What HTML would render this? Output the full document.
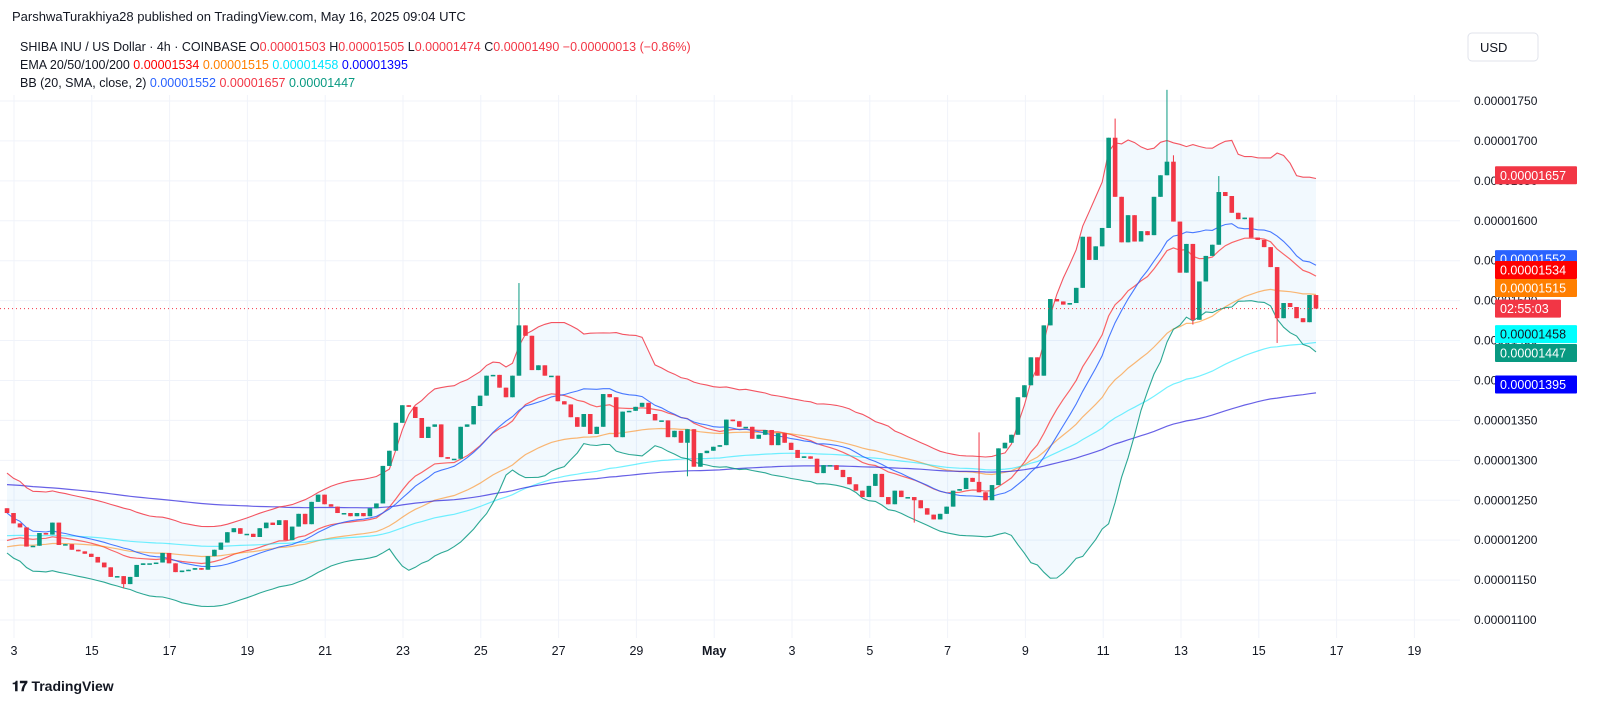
<!DOCTYPE html>
<html><head><meta charset="utf-8"><style>
body{margin:0;background:#fff;width:1600px;height:718px;overflow:hidden;font-family:"Liberation Sans",sans-serif}
svg{position:absolute;left:0;top:0}
</style></head><body>
<svg id="c" width="1600" height="718" xmlns="http://www.w3.org/2000/svg">
<rect width="1600" height="718" fill="#fff"/>
<text x="12" y="21" font-size="13" fill="#131722">ParshwaTurakhiya28 published on TradingView.com, May 16, 2025 09:04 UTC</text>
<g id="grid"></g>
<g id="bbfill"></g>
<g id="lines"></g>
<g id="candles"></g>
<g id="axis"></g>
<g font-size="12.5">
<text x="20" y="51" fill="#131722">SHIBA INU / US Dollar · 4h · COINBASE <tspan fill="#131722">O</tspan><tspan fill="#f23645">0.00001503</tspan> <tspan fill="#131722">H</tspan><tspan fill="#f23645">0.00001505</tspan> <tspan fill="#131722">L</tspan><tspan fill="#f23645">0.00001474</tspan> <tspan fill="#131722">C</tspan><tspan fill="#f23645">0.00001490</tspan> <tspan fill="#f23645">−0.00000013 (−0.86%)</tspan></text>
<text x="20" y="69" fill="#131722">EMA 20/50/100/200 <tspan fill="#ff0000">0.00001534</tspan> <tspan fill="#ff7f00">0.00001515</tspan> <tspan fill="#00e5ff">0.00001458</tspan> <tspan fill="#0000ff">0.00001395</tspan></text>
<text x="20" y="87" fill="#131722">BB (20, SMA, close, 2) <tspan fill="#2962ff">0.00001552</tspan> <tspan fill="#f23645">0.00001657</tspan> <tspan fill="#089981">0.00001447</tspan></text>
</g>
<rect x="1468" y="33" width="70" height="28" rx="4" fill="#fff" stroke="#e0e3eb"/>
<text x="1480" y="52" font-size="13" fill="#131722">USD</text>
<text x="12" y="691" font-size="14" font-weight="bold" fill="#131722">𝟏𝟕 TradingView</text>
</svg>
<script>
const closes=[1234,1221,1216,1192,1193,1209,1207,1222,1194,1195,1188,1186,1183,1179,1172,1166,1154,1155,1145,1154,1169,1171,1171,1172,1184,1171,1160,1162,1163,1165,1163,1180,1188,1197,1210,1215,1208,1208,1204,1215,1222,1219,1225,1200,1217,1233,1220,1248,1257,1245,1242,1234,1234,1230,1234,1230,1240,1246,1293,1312,1347,1369,
1367,1353,1328,1342,1345,1304,1302,1302,1342,1345,1368,1381,1406,1407,1391,1379,1406,1469,1456,1413,1419,1406,1406,1374,1370,1354,1342,1358,1333,1342,1383,1379,1329,1361,1362,1367,1372,1358,1350,1350,1329,1337,1322,1339,1292,1309,1312,1317,1319,1351,1349,1342,1342,
1327,1332,1338,1319,1334,1322,1313,1303,1305,1302,1284,1294,1294,1288,1279,1270,1262,1254,1268,1283,1254,1245,1262,1254,1254,1250,1240,1232,1226,1233,1242,1262,1264,1278,1273,1260,1250,1269,
1315,1322,1332,1379,1394,1429,1406,1469,1502,1499,1495,1497,1516,1580,1551,1568,1591,1704,1630,1573,1607,1574,1587,1582,1630,1657,1674,1599,1535,1571,1476,1524,1556,1570,1636,1631,1610,1602,1604,1579,1576,1567,1542,1478,1497,1492,1478,1473,1507,1490];
const wickHighIdx=[79,171,179,180,187,150];
const wickHighVal=[1522,1728,1764,1682,1656,1335];
const wickLowIdx=[105,183,196,140,18,153];
const wickLowVal=[1280,1470,1447,1222,1140,1300];
const priceTicks=[1100,1150,1200,1250,1300,1350,1400,1450,1500,1550,1600,1650,1700,1750];
const dateLabels=["3","15","17","19","21","23","25","27","29","May","3","5","7","9","11","13","15","17","19"];
const emaPeriods=[20,50,100,200];
const emaSeeds=[1196,1190,1205,1270];
const emaColors=["rgba(255,0,0,0.6)","rgba(255,127,0,0.55)","rgba(0,229,255,0.55)","rgba(40,30,220,0.7)"];
const NS="http://www.w3.org/2000/svg";
const Y=v=>101+(1750-v)*0.7985;
const N=closes.length;
const X=i=>1316-(N-1-i)*6.48;
const DX=d=>14+d*77.8;
function mk(t,a,p){const e=document.createElementNS(NS,t);for(const k in a)e.setAttribute(k,a[k]);p.appendChild(e);return e;}
const grid=document.getElementById('grid'),axis=document.getElementById('axis');
priceTicks.forEach(v=>{
 const l=mk('line',{x1:0,x2:1460,y1:Y(v),y2:Y(v),stroke:'#f0f3fa'},grid);
 
 
 const t=mk('text',{x:1474,y:Y(v)+4,'font-size':12,fill:'#131722'},axis);
 t.textContent='0.0000'+v;
 
 
});
dateLabels.forEach((s,d)=>{
 const l=mk('line',{x1:DX(d),x2:DX(d),y1:95,y2:638,stroke:'#f0f3fa'},grid);
 
 
 const t=mk('text',{x:DX(d),y:655,'font-size':12.5,fill:'#131722','text-anchor':'middle','font-weight':s=='May'?'bold':'normal'},axis);
 t.textContent=s;
 
 
});
const opens=closes.map((c,i)=>i?closes[i-1]:1240);
const hi=closes.map((c,i)=>Math.max(c,opens[i])),lo=closes.map((c,i)=>Math.min(c,opens[i]));
wickHighIdx.forEach((k,j)=>{if(k<N)hi[k]=Math.max(hi[k],wickHighVal[j]);});
wickLowIdx.forEach((k,j)=>{if(k<N)lo[k]=Math.min(lo[k],wickLowVal[j]);});
const lines=document.getElementById('lines');
const pts=a=>a.map((v,i)=>X(i).toFixed(1)+','+Y(v).toFixed(1)).join(' ');
const up=[],mid=[],dn=[];
for(let i=0;i<N;i++){const w=closes.slice(Math.max(0,i-19),i+1);const m=w.reduce((a,b)=>a+b)/w.length;const sd=Math.sqrt(w.reduce((a,b)=>a+(b-m)*(b-m),0)/w.length);const s=Math.max(sd,25);mid.push(m);up.push(m+2*s);dn.push(m-2*s);}
const f=mk('polygon',{points:pts(up)+' '+dn.map((v,i)=>X(i).toFixed(1)+','+Y(v).toFixed(1)).reverse().join(' '),fill:'rgba(33,150,243,0.06)'},document.getElementById('bbfill'));


emaPeriods.forEach((p,j)=>{let e=emaSeeds[j];const a=2/(p+1);const arr=closes.map(c=>e=e+a*(c-e));
 const l=mk('polyline',{points:pts(arr),fill:'none',stroke:emaColors[j],'stroke-width':1.2},lines);
 
 });
[[mid,'#2962ff','bb-basis-line'],[up,'#f23645','bb-upper-line'],[dn,'#089981','bb-lower-line']].forEach(([a,c,n])=>{
 const l=mk('polyline',{points:pts(a),fill:'none',stroke:c,'stroke-width':1.1,opacity:0.85},lines);
 
 });
const cg=document.getElementById('candles');
closes.forEach((c,i)=>{const o=opens[i];const col=c>=o?'#089981':'#f23645';const x=X(i);
 const g=mk('g',{},cg);
 
 
 mk('line',{x1:x,x2:x,y1:Y(hi[i]),y2:Y(lo[i]),stroke:col,'stroke-width':1},g);
 const t=Math.min(Y(c),Y(o)),h=Math.max(1.5,Math.abs(Y(c)-Y(o)));
 mk('rect',{x:x-2.3,y:t,width:4.6,height:h,fill:col},g);});
const cp=mk('line',{x1:0,x2:1460,y1:Y(1490),y2:Y(1490),stroke:'#f23645','stroke-dasharray':'1 3'},axis);


const tags=[[1657,'#f23645','0.00001657',82],[1552,'#2962ff','0.00001552',82],[1534,'#ff0000','0.00001534',82],[1515,'#ff7f00','0.00001515',82],[1490,'#f23645','02:55:03',66],[1458,'#00ffff','0.00001458',82],[1447,'#089981','0.00001447',82],[1395,'#0000ff','0.00001395',82]];
tags.forEach(([v,c,s,w])=>{let y=Y(v);if(v==1534)y=270;if(v==1515)y=288;if(v==1447)y=353;
 const g=mk('g',{},axis);
 
 
 mk('rect',{x:1495,y:y-9,width:w,height:18,fill:c,rx:1},g);
 const t=mk('text',{x:1500,y:y+4.5,'font-size':12.5,fill:v==1458?'#131722':'#fff'},g);t.textContent=s;});
</script>
</body></html>
